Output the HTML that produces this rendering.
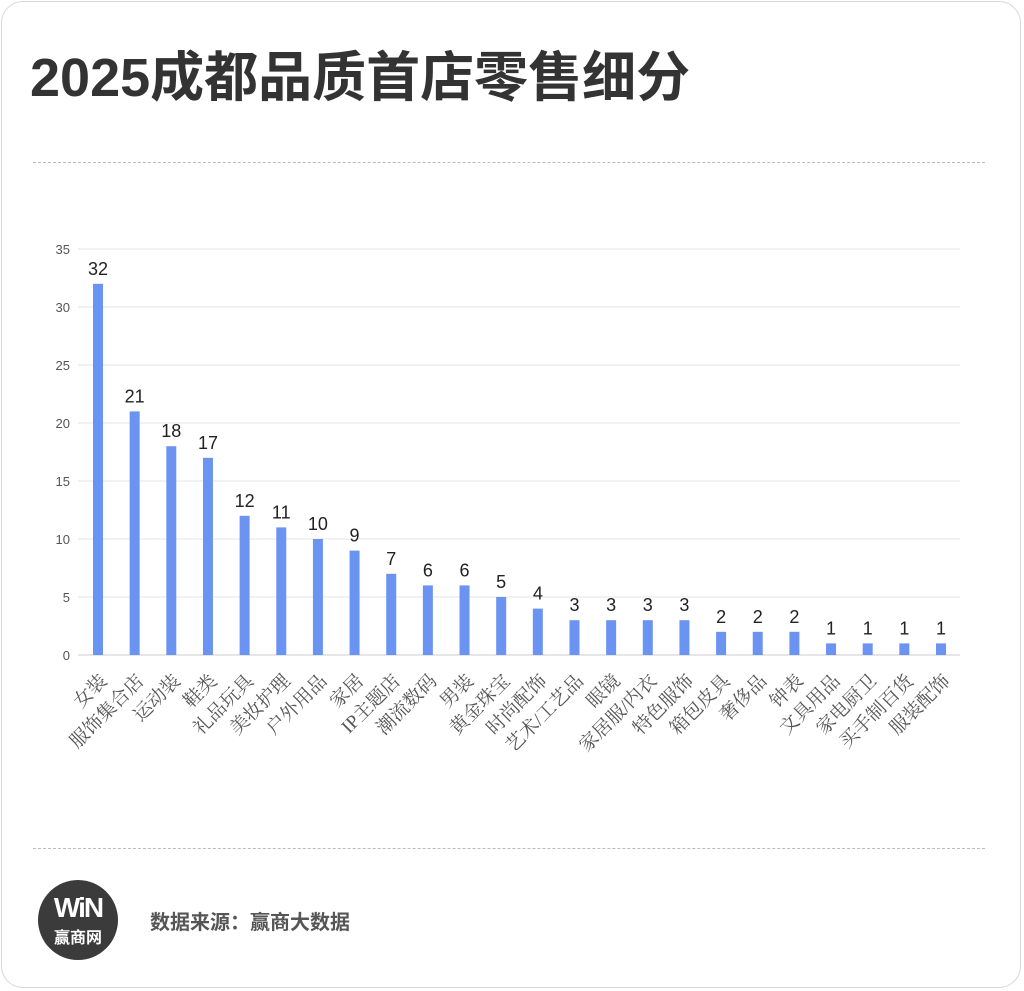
<!DOCTYPE html>
<html><head><meta charset="utf-8"><style>
body{margin:0;background:#fff;width:1024px;height:991px;overflow:hidden;font-family:"Liberation Sans","Noto Sans CJK SC",sans-serif}
.card{position:absolute;left:1px;top:1px;width:1020px;height:987px;border:1px solid #d8d8d8;border-radius:22px;box-sizing:border-box}
h1{position:absolute;left:30px;top:46px;margin:0;font-size:54px;font-weight:bold;color:#333;line-height:64px}
.dash{position:absolute;left:33px;width:952px;border-top:1px dashed #bbb}
.logo{position:absolute;left:38px;top:880px;width:80px;height:80px;border-radius:50%;background:#3b3b3b;color:#fff;text-align:center}
.src{position:absolute;left:150px;top:906px;font-size:20px;font-weight:bold;color:#555}
</style></head><body>
<div class="card"></div>
<h1>2025成都品质首店零售细分</h1>
<div class="dash" style="top:162px"></div>
<div class="dash" style="top:848px"></div>
<svg id="chart" width="1024" height="991" style="position:absolute;left:0;top:0"></svg>
<div class="logo"><div style="font-size:28px;font-weight:900;padding-top:15px;line-height:26px;letter-spacing:-2px">WiN</div><div style="font-size:16px;font-weight:bold;margin-top:3px">赢商网</div></div>
<div class="src">数据来源：赢商大数据</div>
<script>
const categories=["女装","服饰集合店","运动装","鞋类","礼品玩具","美妆护理","户外用品","家居","IP主题店","潮流数码","男装","黄金珠宝","时尚配饰","艺术/工艺品","眼镜","家居服/内衣","特色服饰","箱包皮具","奢侈品","钟表","文具用品","家电厨卫","买手制百货","服装配饰"];
const values=[32,21,18,17,12,11,10,9,7,6,6,5,4,3,3,3,3,2,2,2,1,1,1,1];
const yTicks=[0,5,10,15,20,25,30,35];
const svg=document.getElementById('chart');const NS='http://www.w3.org/2000/svg';
const y0=655,yTop=249,yMax=35,x0=98,step=(941-98)/(categories.length-1);
const ys=v=>y0-(v/yMax)*(y0-yTop);const xs=i=>x0+i*step;
function mk(t,a){const e=document.createElementNS(NS,t);for(const k in a)e.setAttribute(k,a[k]);svg.appendChild(e);return e;}
yTicks.forEach(t=>{const l=mk('line',{x1:78,x2:960,y1:ys(t),y2:ys(t),stroke:t===0?'#ccc':'#e6e6e6','stroke-width':1});


const tx=mk('text',{x:70,y:ys(t)+5,'text-anchor':'end','font-size':13,fill:'#555','font-family':'Liberation Sans, sans-serif'});tx.textContent=t;

});
categories.forEach((c,i)=>{const x=xs(i),v=values[i];
const r=mk('rect',{x:x-5,y:ys(v),width:10,height:y0-ys(v),fill:'#6b93f2'});


const t=mk('text',{x:x,y:ys(v)-9,'text-anchor':'middle','font-size':18,fill:'#222','font-family':'Liberation Sans, sans-serif'});t.textContent=v;


const lx=x+10,ly=682;
const l=mk('text',{x:lx,y:ly,'text-anchor':'end','font-size':19,fill:'#555','font-family':'Liberation Serif, Noto Serif CJK SC, serif',transform:`rotate(-45 ${lx} ${ly})`});l.textContent=c;

});
</script>
</body></html>
